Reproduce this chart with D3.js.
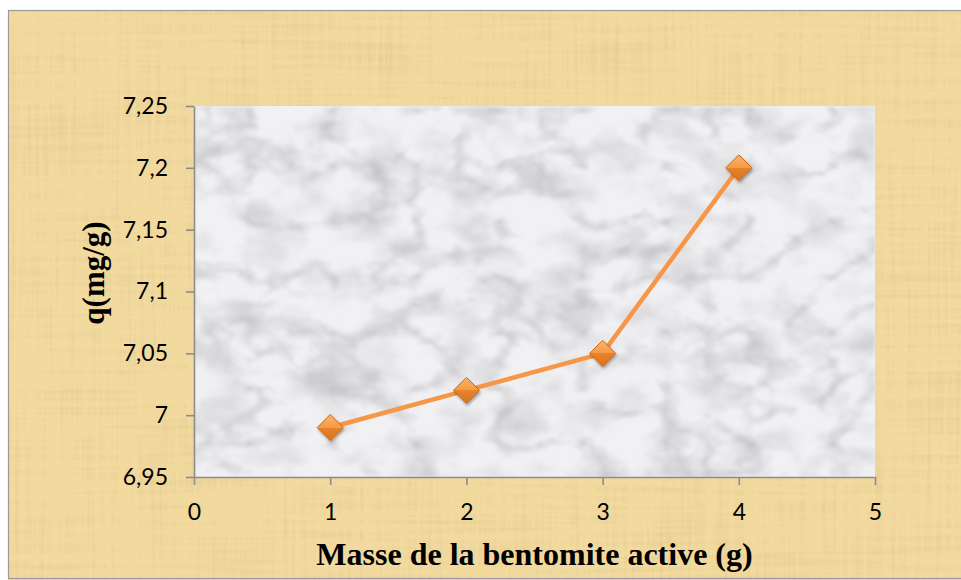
<!DOCTYPE html>
<html>
<head>
<meta charset="utf-8">
<script src="https://cdn.jsdelivr.net/npm/d3@7/dist/d3.min.js"></script>
<style>
  html, body { margin: 0; padding: 0; background: #ffffff; }
  svg { display: block; }
</style>
</head>
<body>
<script>
// Adsorption capacity versus mass of activated bentonite
const masses = [1, 2, 3, 4];
const qValues = [6.99, 7.02, 7.05, 7.20];
const xTicks = [0, 1, 2, 3, 4, 5];
const yTicks = [6.95, 7.00, 7.05, 7.10, 7.15, 7.20, 7.25];
const yTickLabels = ["6,95", "7", "7,05", "7,1", "7,15", "7,2", "7,25"];
const xTitle = "Masse de la bentomite active (g)";
const yTitle = "q(mg/g)";

const W = 961, H = 580;
const plot = { left: 194, right: 875, top: 106, bottom: 477 };

const svg = d3.select("body").append("svg")
  .attr("width", W).attr("height", H);

const defs = svg.append("defs");

// Papyrus texture for the chart background: crossed fibres plus soft blotches
const pap = defs.append("filter").attr("id", "papyrus")
  .attr("x", 0).attr("y", 0).attr("width", 1).attr("height", 1)
  .attr("filterUnits", "objectBoundingBox");
pap.append("feTurbulence").attr("type", "fractalNoise")
  .attr("baseFrequency", "0.25 0.007").attr("numOctaves", 3).attr("seed", 4).attr("result", "vert");
pap.append("feTurbulence").attr("type", "fractalNoise")
  .attr("baseFrequency", "0.007 0.2").attr("numOctaves", 3).attr("seed", 9).attr("result", "horz");
pap.append("feTurbulence").attr("type", "fractalNoise")
  .attr("baseFrequency", "0.01 0.012").attr("numOctaves", 2).attr("seed", 2).attr("result", "blot");
pap.append("feComposite").attr("in", "vert").attr("in2", "horz")
  .attr("operator", "arithmetic").attr("k1", 0).attr("k2", 0.55).attr("k3", 0.55).attr("k4", 0).attr("result", "fib");
pap.append("feComposite").attr("in", "fib").attr("in2", "blot")
  .attr("operator", "arithmetic").attr("k1", 0).attr("k2", 0.85).attr("k3", 0.25).attr("k4", 0).attr("result", "mix");
pap.append("feColorMatrix").attr("in", "mix").attr("type", "matrix")
  .attr("values", "0 0 0 0 0.72  0 0 0 0 0.56  0 0 0 0 0.26  2.0 0 0 0 -0.95").attr("result", "dark");
pap.append("feGaussianBlur").attr("in", "dark").attr("stdDeviation", 0.5);

// Marble texture for the plot area: soft grey clouds with faint veins
const mar = defs.append("filter").attr("id", "marble")
  .attr("x", 0).attr("y", 0).attr("width", 1).attr("height", 1)
  .attr("filterUnits", "objectBoundingBox");
mar.append("feTurbulence").attr("type", "turbulence")
  .attr("baseFrequency", "0.012 0.018").attr("numOctaves", 4).attr("seed", 7).attr("result", "t");
mar.append("feColorMatrix").attr("in", "t").attr("type", "matrix")
  .attr("values", "0 0 0 0 0.40  0 0 0 0 0.40  0 0 0 0 0.43  -1.8 0 0 0 0.48").attr("result", "veins");
mar.append("feGaussianBlur").attr("in", "veins").attr("stdDeviation", 1.8).attr("result", "veinsB");
mar.append("feTurbulence").attr("type", "fractalNoise")
  .attr("baseFrequency", "0.02 0.03").attr("numOctaves", 4).attr("seed", 12).attr("result", "c");
mar.append("feColorMatrix").attr("in", "c").attr("type", "matrix")
  .attr("values", "0 0 0 0 0.55  0 0 0 0 0.55  0 0 0 0 0.58  1.5 0 0 0 -0.66").attr("result", "clouds");
mar.append("feGaussianBlur").attr("in", "clouds").attr("stdDeviation", 1.5).attr("result", "cloudsB");
mar.append("feMerge").call(m => {
  m.append("feMergeNode").attr("in", "cloudsB");
  m.append("feMergeNode").attr("in", "veinsB");
});

// Marker shading and shadow
const grad = defs.append("linearGradient").attr("id", "markerFill")
  .attr("x1", 0).attr("y1", 0).attr("x2", 0).attr("y2", 1);
grad.append("stop").attr("offset", "0%").attr("stop-color", "#fbb468");
grad.append("stop").attr("offset", "50%").attr("stop-color", "#f59a45");
grad.append("stop").attr("offset", "50%").attr("stop-color", "#e8822b");
grad.append("stop").attr("offset", "100%").attr("stop-color", "#d8741f");

const shadow = defs.append("filter").attr("id", "mshadow")
  .attr("x", "-50%").attr("y", "-50%").attr("width", "200%").attr("height", "200%");
shadow.append("feDropShadow").attr("dx", 1).attr("dy", 2).attr("stdDeviation", 1.5)
  .attr("flood-color", "#000").attr("flood-opacity", 0.35);

// Chart area: papyrus background with thin grey frame
svg.append("rect").attr("x", 8).attr("y", 10).attr("width", W).attr("height", H)
  .attr("fill", "#f2da9f");
svg.append("rect").attr("x", 8).attr("y", 10).attr("width", W).attr("height", H)
  .attr("fill", "#fff").attr("filter", "url(#papyrus)");
svg.append("rect").attr("x", 8.5).attr("y", 10.5).attr("width", W).attr("height", H - 12)
  .attr("fill", "none").attr("stroke", "#9a9a9a").attr("stroke-width", 1.2);

// Plot area: marble
svg.append("rect").attr("x", plot.left).attr("y", plot.top)
  .attr("width", plot.right - plot.left).attr("height", plot.bottom - plot.top)
  .attr("fill", "#f1f1f3");
svg.append("rect").attr("x", plot.left).attr("y", plot.top)
  .attr("width", plot.right - plot.left).attr("height", plot.bottom - plot.top)
  .attr("fill", "#fff").attr("filter", "url(#marble)");

const x = d3.scaleLinear().domain([0, 5]).range([plot.left, plot.right]);
const y = d3.scaleLinear().domain([6.95, 7.25]).range([plot.bottom, plot.top]);

const tickFont = "Lato, 'Open Sans', sans-serif";

const yAxis = svg.append("g").attr("transform", `translate(${plot.left},0)`)
  .call(d3.axisLeft(y).tickValues(yTicks)
    .tickFormat((d, i) => yTickLabels[i])
    .tickSize(8).tickSizeOuter(0).tickPadding(18));

const xAxis = svg.append("g").attr("transform", `translate(0,${plot.bottom})`)
  .call(d3.axisBottom(x).tickValues(xTicks)
    .tickFormat(d3.format("d"))
    .tickSize(8).tickSizeOuter(0).tickPadding(19));

[yAxis, xAxis].forEach(g => {
  g.select(".domain").attr("stroke", "#8c8c8c").attr("stroke-width", 1.6);
  g.selectAll(".tick line").attr("stroke", "#8c8c8c").attr("stroke-width", 1.6);
  g.selectAll(".tick text").attr("fill", "#000")
    .style("font-family", tickFont).style("font-size", "23px");
});

// Axis titles
svg.append("text")
  .attr("x", (plot.left + plot.right) / 2).attr("y", 565)
  .attr("text-anchor", "middle")
  .style("font-family", "'Liberation Serif', 'Times New Roman', serif")
  .style("font-weight", "bold").style("font-size", "32px")
  .attr("fill", "#000")
  .text(xTitle);

svg.append("text")
  .attr("transform", "translate(104,273) rotate(-90)")
  .attr("text-anchor", "middle")
  .style("font-family", "'Liberation Serif', 'Times New Roman', serif")
  .style("font-weight", "bold").style("font-size", "31px")
  .attr("fill", "#000")
  .text(yTitle);

// Series line
const pts = masses.map((m, i) => [m, qValues[i]]);
svg.append("path")
  .datum(pts)
  .attr("fill", "none")
  .attr("stroke", "#f79646")
  .attr("stroke-width", 4.5)
  .attr("stroke-linejoin", "round")
  .attr("d", d3.line().x(d => x(d[0])).y(d => y(d[1])));

// Diamond markers
const r = 13;
svg.append("g").selectAll("path.marker")
  .data(pts).join("path")
  .attr("class", "marker")
  .attr("transform", d => `translate(${x(d[0])},${y(d[1])})`)
  .attr("d", `M0,${-r}L${r},0L0,${r}L${-r},0Z`)
  .attr("fill", "url(#markerFill)")
  .attr("stroke", "#c8681c")
  .attr("stroke-width", 1)
  .attr("filter", "url(#mshadow)");
</script>
</body>
</html>
